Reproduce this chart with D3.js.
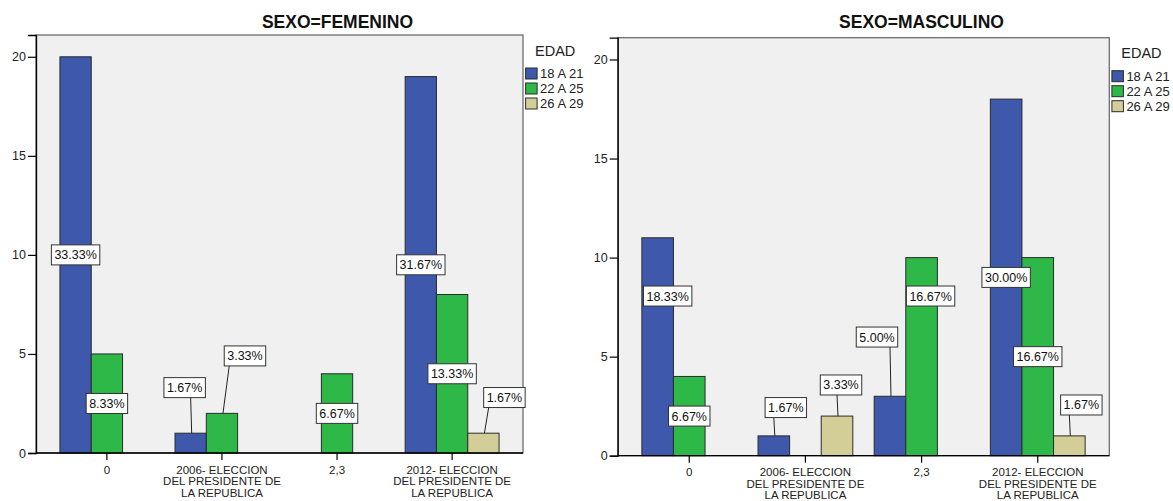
<!DOCTYPE html>
<html>
<head>
<meta charset="utf-8">
<script src="https://cdn.jsdelivr.net/npm/d3@7"></script>
<style>
  html, body { margin: 0; padding: 0; background: #ffffff; }
  svg { display: block; font-family: "Liberation Sans", Arial, sans-serif; }
</style>
</head>
<body>
<svg id="chart" width="1173" height="501"></svg>
<script>
// ---------------- DATA ----------------
const categories = ["0", "2006- ELECCION DEL PRESIDENTE DE LA REPUBLICA", "2,3", "2012- ELECCION DEL PRESIDENTE DE LA REPUBLICA"];
const categoryTickLines = [
  ["0"],
  ["2006- ELECCION", "DEL PRESIDENTE DE", "LA REPUBLICA"],
  ["2,3"],
  ["2012- ELECCION", "DEL PRESIDENTE DE", "LA REPUBLICA"]
];
const ageGroups = ["18 A 21", "22 A 25", "26 A 29"];
const legendTitle = "EDAD";

const femenino18a21 = [20, 1, 0, 19];
const femenino22a25 = [5, 2, 4, 8];
const femenino26a29 = [0, 0, 0, 1];

const masculino18a21 = [11, 1, 3, 18];
const masculino22a25 = [4, 0, 10, 10];
const masculino26a29 = [0, 2, 0, 1];

const yTicks = [0, 5, 10, 15, 20];
const panelTitles = ["SEXO=FEMENINO", "SEXO=MASCULINO"];

// ---------------- LAYOUT / STYLE ----------------
const colors = ["#3E58AC", "#2EB848", "#D3CE97"];
const yMax = 21.1;
// label placement: key "cat-series" -> anchor (in value units) and x offset (px); missing = middle of bar
const femeninoLabelLayout = {
  "1-0": { v: 3.3, dx: -6 },
  "1-1": { v: 4.9, dx: 23 },
  "3-2": { v: 2.8, dx: 21 }
};
const masculinoLabelLayout = {
  "0-0": { v: 8.06, dx: 10 },
  "1-0": { v: 2.43, dx: 12 },
  "1-2": { v: 3.57, dx: 4 },
  "2-0": { v: 5.99, dx: -13 },
  "2-1": { v: 8.06, dx: 9 },
  "3-2": { v: 2.56, dx: 12 }
};

const panels = [
  { title: panelTitles[0], series: [femenino18a21, femenino22a25, femenino26a29],
    left: 36, right: 523, top: 35, bottom: 453, labels: femeninoLabelLayout },
  { title: panelTitles[1], series: [masculino18a21, masculino22a25, masculino26a29],
    left: 617.7, right: 1109.3, top: 37.7, bottom: 455.7, labels: masculinoLabelLayout }
];

const svg = d3.select("#chart");

panels.forEach(p => {
  const g = svg.append("g");
  const total = d3.sum(p.series.flat());

  const x = d3.scaleBand().domain(categories).range([p.left, p.right])
    .paddingInner(0.184).paddingOuter(0.208);
  const xs = d3.scaleBand().domain(ageGroups).range([0, x.bandwidth()]);
  const y = d3.scaleLinear().domain([0, yMax]).range([p.bottom, p.top]);

  // plot background & frame
  g.append("rect")
    .attr("x", p.left).attr("y", p.top)
    .attr("width", p.right - p.left).attr("height", p.bottom - p.top)
    .attr("fill", "#F0F0F0").attr("stroke", "#6e6e6e").attr("stroke-width", 1.3);

  // title
  g.append("text")
    .attr("x", (p.left + p.right) / 2 + 58).attr("y", 28)
    .attr("text-anchor", "middle")
    .attr("font-size", "17.5px").attr("font-weight", "bold").attr("fill", "#111")
    .text(p.title);

  // bars
  const barData = [];
  categories.forEach((c, ci) => {
    ageGroups.forEach((a, si) => {
      const v = p.series[si][ci];
      if (v > 0) barData.push({ c, a, ci, si, v });
    });
  });

  g.selectAll("rect.bar").data(barData).join("rect")
    .attr("class", "bar")
    .attr("x", d => x(d.c) + xs(d.a))
    .attr("y", d => y(d.v))
    .attr("width", xs.bandwidth())
    .attr("height", d => y(0) - y(d.v))
    .attr("fill", d => colors[d.si])
    .attr("stroke", "#2b2b2b").attr("stroke-width", 1);

  // y axis
  const yAxis = d3.axisLeft(y).tickValues(yTicks).tickSize(8).tickPadding(2).tickFormat(d3.format("d"));
  const ya = g.append("g").attr("transform", `translate(${p.left},0)`).call(yAxis);
  ya.select(".domain").attr("stroke", "#000").attr("stroke-width", 1.3);
  ya.selectAll(".tick line").attr("stroke", "#000").attr("stroke-width", 1.2);
  ya.selectAll(".tick text").attr("font-size", "12.5px").attr("fill", "#222")
    .attr("font-family", "Liberation Sans, Arial, sans-serif");

  // x axis
  const xAxis = d3.axisBottom(x).tickSize(7).tickFormat("");
  const xa = g.append("g").attr("transform", `translate(0,${p.bottom})`).call(xAxis);
  xa.select(".domain").attr("stroke", "#000").attr("stroke-width", 1.3).attr("d", `M${p.left},0H${p.right}`);
  xa.selectAll(".tick")
    .attr("transform", d => `translate(${x(d) + xs("22 A 25") + xs.bandwidth() / 2},0)`);
  xa.selectAll(".tick line").attr("stroke", "#000").attr("stroke-width", 1.2);
  xa.selectAll(".tick").each(function (d, i) {
    const t = d3.select(this).append("text")
      .attr("text-anchor", "middle").attr("fill", "#222")
      .attr("font-size", "11.5px").attr("font-family", "Liberation Sans, Arial, sans-serif");
    categoryTickLines[i].forEach((ln, li) => {
      t.append("tspan").attr("x", 0).attr("y", 20.5 + li * 11.5).text(ln);
    });
  });

  // value labels
  const fmt = v => (v / total * 100).toFixed(2) + "%";
  barData.forEach(d => {
    const key = d.ci + "-" + d.si;
    const lay = p.labels[key];
    const bx = x(d.c) + xs(d.a) + xs.bandwidth() / 2;
    const cx = bx + (lay ? lay.dx : 0);
    const cy = lay ? y(lay.v) : y(d.v / 2);
    const txt = fmt(d.v);
    const lg = g.append("g");
    const tEl = lg.append("text")
      .attr("x", cx).attr("y", cy + 4.5)
      .attr("text-anchor", "middle").attr("font-size", "12.5px").attr("fill", "#111")
      .text(txt);
    const w = tEl.node().getComputedTextLength() + 6;
    const h = 20;
    if (lay && lay.v > d.v) {
      const bl = cx - w / 2, br = cx + w / 2;
      const lx = Math.max(bl + 5, Math.min(br - 5, bx));
      lg.insert("line", "text")
        .attr("x1", bx + 1).attr("y1", y(d.v))
        .attr("x2", lx).attr("y2", cy + h / 2)
        .attr("stroke", "#222").attr("stroke-width", 1);
    }
    lg.insert("rect", "text")
      .attr("x", cx - w / 2).attr("y", cy - h / 2)
      .attr("width", w).attr("height", h)
      .attr("fill", "#fff").attr("stroke", "#333").attr("stroke-width", 1);
  });

  // legend
  const lgX = p.right + 2.6;
  const leg = g.append("g");
  leg.append("text")
    .attr("x", p.right + 12).attr("y", p.top + 20.5)
    .attr("font-size", "14.5px").attr("fill", "#222").text(legendTitle);
  ageGroups.forEach((a, i) => {
    leg.append("rect")
      .attr("x", lgX).attr("y", p.top + 33 + i * 15)
      .attr("width", 11.5).attr("height", 11)
      .attr("fill", colors[i]).attr("stroke", "#2b2b2b").attr("stroke-width", 1);
    leg.append("text")
      .attr("x", lgX + 14.5).attr("y", p.top + 43.3 + i * 15)
      .attr("font-size", "13px").attr("fill", "#222").text(a);
  });
});
</script>
</body>
</html>
